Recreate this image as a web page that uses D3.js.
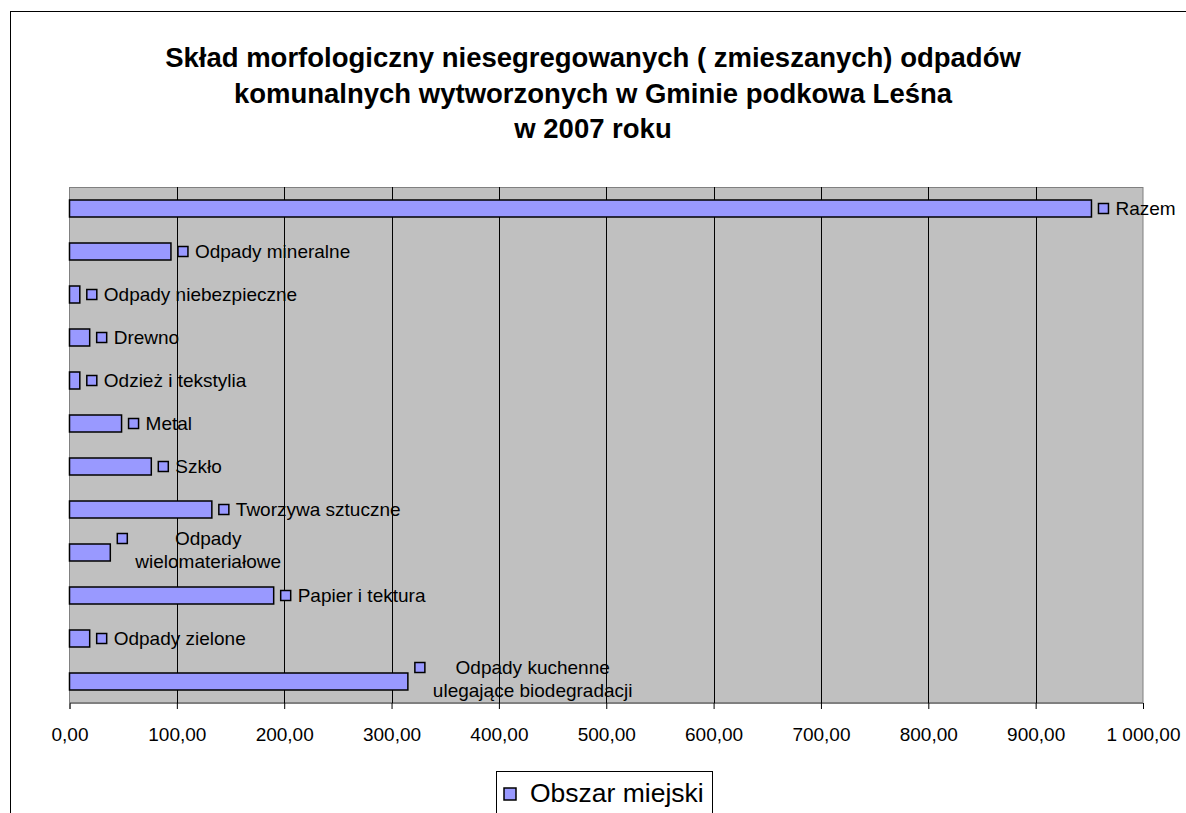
<!DOCTYPE html>
<html>
<head>
<meta charset="utf-8"/>
<title>Skład morfologiczny odpadów</title>
<style>
  body { margin: 0; background: #fff; }
  text { font-family: "Liberation Sans", Arial, sans-serif; fill: #000; }
  .title { font-size: 27.5px; font-weight: bold; }
  .lbl { font-size: 19px; }
  .tick text { font-size: 19px; }
</style>
</head>
<body>
<svg width="1186" height="813"></svg>
<script src="https://d3js.org/d3.v7.min.js"></script>
<script>
// categories, top to bottom as in the chart
const categories = [
  "Razem",
  "Odpady mineralne",
  "Odpady niebezpieczne",
  "Drewno",
  "Odzież i tekstylia",
  "Metal",
  "Szkło",
  "Tworzywa sztuczne",
  "Odpady wielomateriałowe",
  "Papier i tektura",
  "Odpady zielone",
  "Odpady kuchenne ulegające biodegradacji"
];
// label lines as drawn next to the bars
const labelLines = [
  ["Razem"],
  ["Odpady mineralne"],
  ["Odpady niebezpieczne"],
  ["Drewno"],
  ["Odzież i tekstylia"],
  ["Metal"],
  ["Szkło"],
  ["Tworzywa sztuczne"],
  ["Odpady", "wielomateriałowe"],
  ["Papier i tektura"],
  ["Odpady zielone"],
  ["Odpady kuchenne", "ulegające biodegradacji"]
];
// Obszar miejski [Mg]
const values = [952.0, 94.5, 9.6, 18.8, 9.6, 48.5, 76.2, 132.6, 38.0, 190.2, 18.8, 315.2];
const xTicks = [0, 100, 200, 300, 400, 500, 600, 700, 800, 900, 1000];
const seriesName = "Obszar miejski";
const titleLines = [
  "Skład morfologiczny niesegregowanych ( zmieszanych) odpadów",
  "komunalnych wytworzonych w Gminie podkowa Leśna",
  "w 2007 roku"
];

const barColor = "#9999ff";
const pl = d3.formatLocale({decimal: ",", thousands: " ", grouping: [3], currency: ["", " zł"]});
const fmt = pl.format(",.2f");

const svg = d3.select("svg");

// chart border
svg.append("rect")
  .attr("x", 10.5).attr("y", 11.5)
  .attr("width", 1300).attr("height", 900)
  .attr("fill", "#fff").attr("stroke", "#000");

// title
svg.append("g").selectAll("text")
  .data(titleLines)
  .join("text")
  .attr("class", "title")
  .attr("x", 593)
  .attr("y", (d, i) => 67 + i * 35.5)
  .attr("text-anchor", "middle")
  .text(d => d);

const x = d3.scaleLinear().domain([0, 1000]).range([69.5, 1143]);
const y = d3.scaleBand().domain(categories).range([187, 703]);
const bh = 17;

// plot area
svg.append("rect")
  .attr("x", x(0)).attr("y", 187.5)
  .attr("width", x(1000) - x(0)).attr("height", 515)
  .attr("fill", "#c0c0c0").attr("stroke", "#808080");

// gridlines
svg.append("g").selectAll("line")
  .data(xTicks.slice(1, -1))
  .join("line")
  .attr("x1", d => Math.round(x(d)) + 0.5).attr("x2", d => Math.round(x(d)) + 0.5)
  .attr("y1", 187).attr("y2", 703)
  .attr("stroke", "#000");

// axis
const axis = svg.append("g")
  .attr("transform", "translate(0,703)")
  .call(d3.axisBottom(x).tickValues(xTicks).tickFormat(fmt).tickSize(6).tickPadding(19));
axis.select(".domain").attr("stroke", "#808080");
axis.selectAll(".tick line").attr("stroke", "#000");
axis.selectAll(".tick text").attr("fill", "#000");

// bars
svg.append("g").selectAll("rect")
  .data(categories)
  .join("rect")
  .attr("x", x(0))
  .attr("y", d => y(d) + y.bandwidth() / 2 - bh / 2)
  .attr("width", (d, i) => x(values[i]) - x(0))
  .attr("height", bh)
  .attr("fill", barColor)
  .attr("stroke", "#000")
  .attr("stroke-width", 1.5);

// data labels: legend key + category name
const lab = svg.append("g").selectAll("g")
  .data(categories)
  .join("g");

lab.each(function(d, i) {
  const g = d3.select(this);
  const cy = y(d) + y.bandwidth() / 2;
  const kx = x(values[i]) + 7;
  const lines = labelLines[i];
  const two = lines.length > 1;
  g.append("rect")
    .attr("x", kx).attr("y", two ? cy - 19 : cy - 5)
    .attr("width", 10).attr("height", 10)
    .attr("fill", barColor).attr("stroke", "#000").attr("stroke-width", 1.5);
  const t = g.selectAll("text").data(lines).join("text")
    .attr("class", "lbl")
    .text(s => s);
  if (two) {
    let w = 0;
    t.each(function() { w = Math.max(w, this.getComputedTextLength()); });
    t.attr("text-anchor", "middle")
      .attr("x", kx + 18 + w / 2)
      .attr("y", (s, j) => cy - 8 + j * 23);
  } else {
    t.attr("x", kx + 17).attr("y", cy + 6.5);
  }
});

// legend
const leg = svg.append("g");
leg.append("rect")
  .attr("x", 496.5).attr("y", 771.5)
  .attr("width", 216).attr("height", 80)
  .attr("fill", "#fff").attr("stroke", "#000");
leg.append("rect")
  .attr("x", 504).attr("y", 788)
  .attr("width", 12).attr("height", 12)
  .attr("fill", barColor).attr("stroke", "#000").attr("stroke-width", 1.5);
leg.append("text")
  .attr("x", 530).attr("y", 802)
  .style("font-size", "26.5px")
  .text(seriesName);
</script>
</body>
</html>
